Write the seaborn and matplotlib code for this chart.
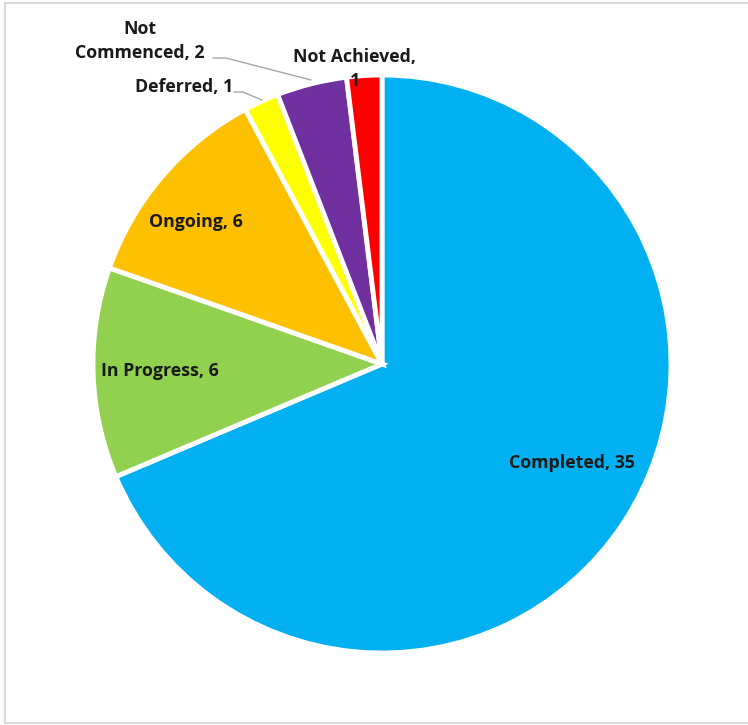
import numpy as np
import matplotlib
matplotlib.use("Agg")
import matplotlib.pyplot as plt
import seaborn as sns

# data
categories = ["Completed", "In Progress", "Ongoing", "Deferred", "Not Commenced", "Not Achieved"]
counts = [35, 6, 6, 1, 2, 1]
colors = ["#00B0F0", "#92D050", "#FFC000", "#FFFF00", "#7030A0", "#FF0000"]

sns.set_theme(style="white")
plt.rcParams['font.family'] = ['Open Sans', 'DejaVu Sans']

W, H = 748, 725
fig = plt.figure(figsize=(W / 100, H / 100), dpi=100)
ax = fig.add_axes([0, 0, 1, 1])

cx, cy, R = 382, H - 364, 289
pal = sns.color_palette(colors)
wedges, _ = ax.pie(counts, colors=pal, startangle=90, counterclock=False,
                   center=(cx, cy), radius=R, frame=True,
                   wedgeprops=dict(edgecolor="white", linewidth=3.5))
ax.set_xlim(0, W)
ax.set_ylim(0, H)
ax.axis("off")

tstyle = dict(fontsize=12.8, fontweight="bold", color="#1a1a1a")

# label layout in pixels (x, y from top)
label_pos = {0: (572, 463), 1: (160, 371), 2: (196, 222)}
for i, (x, y) in label_pos.items():
    ax.text(x, H - y, f"{categories[i]}, {counts[i]}", ha="center", va="center", **tstyle)

ax.text(184, H - 87, f"{categories[3]}, {counts[3]}", ha="center", va="center", **tstyle)
ax.text(140, H - 41, f"Not\nCommenced, {counts[4]}", ha="center", va="center",
        linespacing=1.45, **tstyle)
ax.text(355, H - 69, f"Not Achieved,\n{counts[5]}", ha="center", va="center",
        linespacing=1.45, **tstyle)

lc = "#A6A6A6"
ax.plot([234, 243, 262], [H - 92, H - 92, H - 100], color=lc, lw=1)
ax.plot([213, 226, 311], [H - 58, H - 58, H - 80], color=lc, lw=1)

# chart border
ax.plot([5, 5], [2, H - 3], color="#D9D9D9", lw=1.5)
ax.plot([5, W], [H - 3, H - 3], color="#D9D9D9", lw=1.5)
ax.plot([5, W], [2, 2], color="#D9D9D9", lw=1.5)

fig.savefig("out.png", dpi=100)
